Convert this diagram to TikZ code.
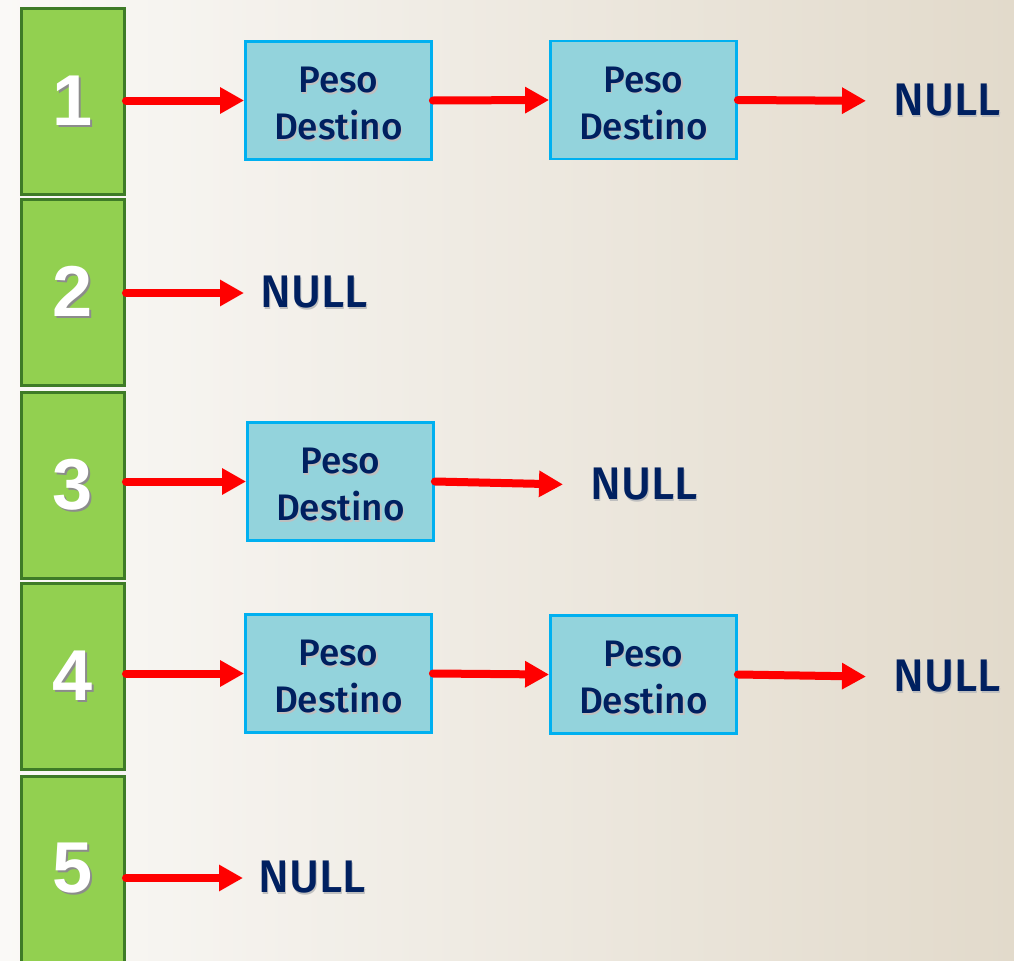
\documentclass[tikz,border=0pt]{standalone}
\usepackage{fontspec}
\newfontfamily\labelfont{Fira Sans Medium}
\newfontfamily\digitfont{Liberation Sans}
\usetikzlibrary{arrows.meta,positioning}
\usepackage{xcolor}
\definecolor{cellgreen}{HTML}{92D050}
\definecolor{celledge}{HTML}{3E7B27}
\definecolor{entryfill}{HTML}{93D3DC}
\definecolor{entryedge}{HTML}{00B0F0}
\definecolor{navy}{HTML}{002060}
\definecolor{linkred}{HTML}{FF0000}
\definecolor{bgleft}{HTML}{FAF9F7}
\definecolor{bgright}{HTML}{E2DACB}
% text with a small drop shadow
\newcommand{\dropshadow}[3]{\makebox[0pt][l]{\kern#1\raisebox{-#1}{\color{#2}#3}}#3}
\tikzset{
  cell/.style={draw=celledge, fill=cellgreen, line width=1.7pt, minimum width=2.06cm, minimum height=3.72cm, inner sep=0pt, text=white, font=\digitfont\bfseries\fontsize{41}{41}\selectfont},
  entry/.style={draw=entryedge, fill=entryfill, line width=1.6pt, minimum width=3.72cm, minimum height=2.36cm, inner sep=0pt, align=center, text=navy, font=\labelfont\fontsize{21}{26.8}\selectfont},
  nullnode/.style={anchor=west, inner sep=0pt, text=navy, font=\labelfont\fontsize{26}{26}\selectfont},
  link/.style={-{Triangle[length=0.48cm,width=0.5cm]}, line width=0.16cm, draw=linkred, line cap=round}
}
\newcommand{\digit}[1]{\dropshadow{1.1pt}{black!45}{#1}}
% the strut pushes the two lines a bit down in the box
\newcommand{\pesodestino}{\rule{0pt}{19pt}\dropshadow{0.8pt}{black!25}{Peso}\\\dropshadow{0.8pt}{black!25}{Destino}}
\newcommand{\nulltext}{\dropshadow{0.8pt}{black!25}{NULL}}

\begin{document}
\begin{tikzpicture}
\clip (0,0) rectangle (20.28,-19.22);
\fill[left color=bgleft, right color=bgright] (0,0) rectangle (20.28,-19.22);
% vertex column
\node[cell] (c1) at (1.46,-2.03) {\digit{1}};
\node[cell] (c2) at (1.46,-5.85) {\digit{2}};
\node[cell] (c3) at (1.46,-9.71) {\digit{3}};
\node[cell] (c4) at (1.46,-13.53) {\digit{4}};
\node[cell] (c5) at (1.46,-17.39) {\digit{5}};
% row 1
\node[entry] (b11) at (6.77,-2.01) {\pesodestino};
\node[entry] (b12) at (12.87,-2.00) {\pesodestino};
\node[nullnode] (n1) at (17.86,-2.02) {\nulltext};
\draw[link] (c1.east |- b11.west) -- (b11.west);
\draw[link] (b11.east) -- (b12.west);
\draw[link, shorten >=0.54cm] (b12.east) -- (n1.west);
% row 2
\node[nullnode] (n2) at (5.20,-5.86) {\nulltext};
\draw[link, shorten >=0.32cm] (c2.east |- n2.west) -- (n2.west);
% row 3
\node[entry] (b3) at (6.81,-9.63) {\pesodestino};
\node[nullnode] (n3) at (11.80,-9.70) {\nulltext};
\draw[link] (c3.east |- b3.west) -- (b3.west);
\draw[link, shorten >=0.54cm] (b3.east) -- (n3.west);
% row 4
\node[entry] (b41) at (6.77,-13.47) {\pesodestino};
\node[entry] (b42) at (12.87,-13.49) {\pesodestino};
\node[nullnode] (n4) at (17.86,-13.54) {\nulltext};
\draw[link] (c4.east |- b41.west) -- (b41.west);
\draw[link] (b41.east) -- (b42.west);
\draw[link, shorten >=0.54cm] (b42.east) -- (n4.west);
% row 5
\node[nullnode] (n5) at (5.16,-17.56) {\nulltext};
\draw[link, shorten >=0.30cm] (c5.east |- n5.west) -- (n5.west);
\end{tikzpicture}
\end{document}
